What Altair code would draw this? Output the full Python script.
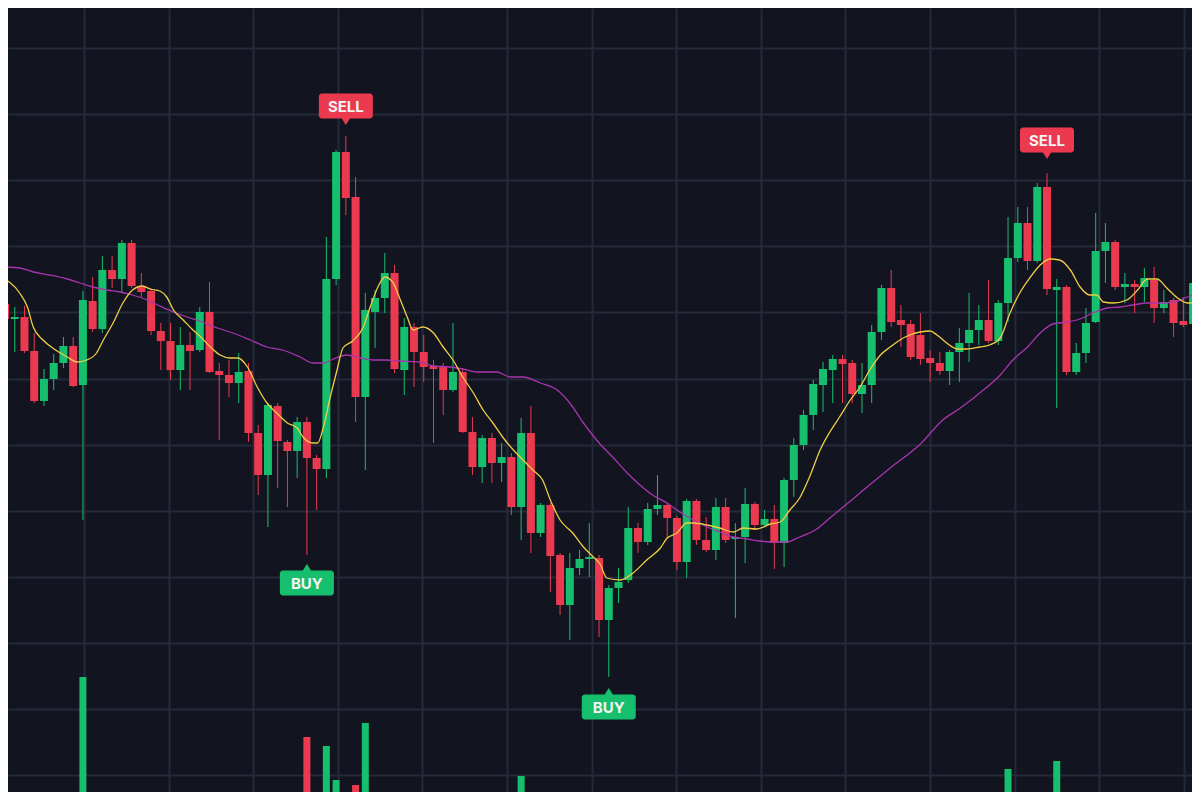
import altair as alt
import pandas as pd

BG = "#12151f"
GRID = "#252a3a"
GREEN = "#16bf6d"
RED = "#eb3a4f"
YELLOW = "#f0cd45"
MAGENTA = "#a834b0"

# ---- candle data (index 0..122), price units ----
opens = [496, 481, 483, 449, 399, 421, 437, 454, 415, 499,
         471, 530, 521, 557, 514, 509, 469, 459, 430, 455,
         450, 488, 429, 425, 417, 429, 367, 325, 394, 358,
         349, 378, 342, 331, 521, 648, 603, 403, 488, 502,
         527, 430, 473, 448, 434, 433, 410, 428, 368, 333,
         362, 337, 343, 293, 367, 267, 295, 245, 195, 232,
         241, 242, 180, 212, 220, 272, 258, 291, 295, 282,
         238, 299, 260, 250, 293, 261, 263, 296, 275, 281,
         257, 320, 355, 385, 415, 430, 441, 437, 406, 415,
         468, 512, 480, 476, 465, 442, 437, 429, 448, 457,
         470, 480, 459, 497, 542, 577, 539, 613, 510, 513,
         428, 447, 478, 549, 558, 513, 516, 513, 520, 492,
         500, 479, 476]
closes = [481, 483, 449, 399, 421, 437, 454, 414, 500, 471,
          530, 521, 557, 514, 508, 469, 459, 430, 455, 449,
          488, 428, 425, 417, 428, 367, 325, 395, 359, 349,
          378, 342, 331, 521, 648, 602, 403, 490, 502, 527,
          431, 473, 448, 433, 431, 410, 428, 368, 333, 362,
          337, 343, 293, 367, 267, 295, 244, 195, 232, 241,
          243, 180, 212, 218, 272, 258, 291, 295, 282, 238,
          299, 260, 250, 293, 260, 263, 296, 275, 281, 257,
          320, 355, 385, 416, 431, 441, 436, 406, 415, 468,
          512, 478, 475, 443, 441, 437, 429, 448, 457, 470,
          480, 459, 497, 542, 577, 539, 613, 511, 513, 428,
          447, 477, 549, 558, 513, 516, 513, 522, 492, 498,
          477, 475, 517]
highs = [503, 493, 494, 467, 431, 446, 463, 463, 509, 523,
         544, 544, 560, 560, 527, 512, 477, 477, 473, 468,
         493, 518, 437, 440, 447, 437, 375, 397, 397, 360,
         383, 383, 345, 563, 650, 664, 623, 507, 510, 547,
         535, 482, 477, 465, 440, 437, 477, 432, 383, 365,
         367, 357, 347, 382, 394, 297, 297, 247, 247, 250,
         277, 245, 215, 232, 293, 277, 297, 325, 297, 284,
         301, 301, 283, 302, 302, 277, 312, 298, 290, 295,
         322, 362, 390, 420, 438, 445, 445, 440, 437, 475,
         515, 530, 495, 480, 487, 450, 448, 450, 472, 507,
         495, 520, 500, 583, 593, 593, 617, 627, 521, 515,
         457, 492, 587, 577, 560, 527, 520, 532, 533, 510,
         502, 503, 520]
lows = [475, 448, 447, 397, 394, 410, 432, 413, 280, 468,
        467, 512, 507, 512, 503, 465, 430, 420, 410, 410,
        448, 427, 360, 403, 397, 358, 305, 273, 312, 293,
        322, 245, 290, 322, 515, 585, 378, 330, 452, 487,
        427, 405, 413, 418, 357, 385, 408, 367, 325, 317,
        317, 318, 285, 260, 247, 263, 208, 185, 160, 225,
        223, 163, 123, 197, 217, 247, 255, 285, 262, 230,
        222, 255, 248, 240, 257, 182, 237, 270, 273, 231,
        233, 303, 350, 370, 388, 397, 397, 397, 387, 397,
        460, 473, 453, 440, 435, 418, 425, 415, 418, 438,
        455, 457, 455, 478, 538, 530, 537, 505, 392, 425,
        425, 437, 477, 517, 510, 497, 487, 498, 477, 487,
        463, 473, 474]

# ---- moving averages (candle index, price) ----
fast_k = [-0.5, 1.5, 2.3, 2.9, 3.9, 4.9, 6.4, 7.4, 8.4, 9.4,
          10.1, 11.1, 12.1, 13.1, 14.1, 14.9, 15.9, 16.6, 17.3, 18.3,
          19.3, 20.0, 21.1, 22.1, 23.1, 23.9, 24.9, 25.9, 26.9, 27.9,
          29.0, 30.0, 30.6, 31.6, 32.1, 32.7, 33.4, 34.1, 34.7, 35.7,
          36.8, 37.5, 38.5, 39.0, 39.8, 40.6, 41.3, 41.9, 42.9, 44.0,
          45.0, 46.0, 47.0, 48.1, 49.1, 50.1, 51.1, 52.2, 53.2, 54.2,
          55.2, 56.0, 57.0, 58.3, 59.4, 60.4, 61.1, 61.8, 63.2, 64.5,
          65.9, 67.3, 68.0, 69.0, 70.0, 70.7, 72.1, 73.4, 74.8, 75.8,
          77.2, 78.6, 79.6, 80.6, 81.6, 82.7, 83.7, 84.7, 85.7, 86.8,
          87.8, 88.8, 89.9, 90.9, 91.9, 92.9, 94.0, 95.0, 95.7, 96.7,
          97.8, 98.8, 100.1, 101.1, 102.2, 103.2, 104.2, 105.3, 106.3, 107.3,
          108.3, 109.4, 110.4, 111.4, 112.1, 112.8, 113.8, 115.2, 116.3, 117.3,
          118.3, 119.3, 120.4, 121.4, 122.7]
fast_v = [523, 507, 493, 473, 460, 452, 443, 438, 440, 447,
          460, 477, 497, 510, 514, 511, 509, 503, 490, 480,
          470, 464, 453, 445, 442, 442, 433, 413, 397, 387,
          377, 372, 363, 357, 357, 373, 403, 430, 452, 459,
          473, 493, 517, 523, 518, 500, 483, 470, 473, 467,
          453, 440, 423, 407, 390, 377, 363, 350, 340, 330,
          320, 300, 280, 267, 253, 243, 236, 222, 220, 227,
          240, 252, 262, 267, 277, 277, 275, 272, 268, 272,
          271, 276, 278, 290, 302, 325, 350, 368, 383, 400,
          413, 430, 445, 453, 460, 465, 468, 469, 465, 457,
          451, 451, 453, 455, 462, 487, 507, 523, 535, 541,
          540, 530, 513, 505, 505, 498, 497, 500, 510, 521,
          521, 512, 502, 497, 498]
slow_k = [-0.5, 1.5, 2.9, 4.6, 6.4, 7.7, 9.0, 10.5, 11.8, 13.1,
          14.6, 15.9, 17.3, 18.7, 20.0, 21.8, 23.4, 25.2, 26.9, 28.5,
          30.3, 31.6, 32.7, 33.7, 35.1, 36.5, 37.8, 39.2, 40.6, 42.6,
          44.0, 45.7, 47.0, 48.5, 50.5, 51.9, 53.2, 55.0, 56.7, 58.0,
          59.4, 61.1, 62.4, 63.9, 65.2, 66.5, 68.0, 69.3, 70.7, 72.1,
          73.4, 74.8, 76.2, 77.5, 78.9, 80.3, 81.6, 83.2, 84.7, 87.8,
          90.9, 94.0, 96.3, 98.1, 100.1, 102.2, 103.5, 105.0, 106.3, 107.6,
          109.1, 110.4, 111.7, 113.2, 114.5, 115.8, 117.3, 118.6, 120.0, 121.4,
          122.7]
slow_v = [533, 532, 528, 525, 521, 517, 513, 510, 508, 505,
          500, 494, 488, 483, 479, 472, 467, 460, 453, 450,
          443, 437, 437, 441, 445, 442, 440, 440, 439, 438,
          434, 433, 431, 428, 428, 423, 423, 417, 410, 397,
          377, 356, 343, 327, 315, 305, 297, 288, 280, 273,
          268, 263, 261, 259, 258, 258, 263, 270, 282, 307,
          332, 356, 380, 392, 407, 425, 440, 453, 467, 476,
          478, 481, 487, 492, 493, 495, 497, 497, 498, 503,
          507]

# ---- volume bars visible at the bottom ----
vol_k = [8, 27, 31, 33, 34, 35, 36, 37, 53, 103, 108]
vol_v = [76.5, 17.5, 46.5, 42, 25, 15.5, 22.5, 53.5, 27, 30.5, 34.5]

# ---- signals ----
sig_k = [31, 35, 62, 107]
sig_text = ["BUY", "SELL", "BUY", "SELL"]
sig_price = [217, 694, 93, 660]

candles = pd.DataFrame({"k": list(range(len(opens))), "open": opens, "close": closes,
                        "high": highs, "low": lows})
candles["dir"] = ["up" if c >= o else "down" for o, c in zip(opens, closes)]
dir_map = dict(zip(candles["k"], candles["dir"]))
vol_df = pd.DataFrame({"k": vol_k, "vol": vol_v})
vol_df["dir"] = [dir_map[k] for k in vol_k]
fast_df = pd.DataFrame({"k": fast_k, "v": fast_v})
slow_df = pd.DataFrame({"k": slow_k, "v": slow_v})
sig_df = pd.DataFrame({"k": sig_k, "text": sig_text, "p": sig_price})
sig_df["dir"] = ["up" if t == "BUY" else "down" for t in sig_text]

W, H = 1184, 784
xscale = alt.Scale(domain=[0.308, 121.89], nice=False, zero=False, padding=0)
yscale = alt.Scale(domain=[8, 792], nice=False, zero=False, padding=0)
grid_x = [(84 + 84.6 * m - 5) / 9.738 for m in range(14)]
grid_y = [752 - 66.1 * j for j in range(12)]
xaxis = alt.Axis(values=grid_x, grid=True, gridColor=GRID, gridWidth=2, gridOpacity=1,
                 labels=False, ticks=False, domain=False, title=None)
yaxis = alt.Axis(values=grid_y, grid=True, gridColor=GRID, gridWidth=2, gridOpacity=1,
                 labels=False, ticks=False, domain=False, title=None)
color = alt.Color("dir:N", scale=alt.Scale(domain=["up", "down"], range=[GREEN, RED]), legend=None)

base = alt.Chart(candles)
wick = base.mark_rule(strokeWidth=1, clip=True).encode(
    x=alt.X("k:Q", scale=xscale, axis=xaxis),
    y=alt.Y("low:Q", scale=yscale, axis=yaxis),
    y2="high:Q",
    color=color,
)
body = base.mark_bar(width=8, clip=True).encode(
    x=alt.X("k:Q", scale=xscale),
    y=alt.Y("open:Q", scale=yscale),
    y2="close:Q",
    color=color,
)
slow = alt.Chart(slow_df).mark_line(color=MAGENTA, strokeWidth=1.3, interpolate="monotone", clip=True).encode(
    x=alt.X("k:Q", scale=xscale), y=alt.Y("v:Q", scale=yscale))
fast = alt.Chart(fast_df).mark_line(color=YELLOW, strokeWidth=1.3, interpolate="monotone", clip=True).encode(
    x=alt.X("k:Q", scale=xscale), y=alt.Y("v:Q", scale=yscale))

sig = alt.Chart(sig_df)
box = sig.mark_rect(xOffset=-27, x2Offset=27, yOffset=-12.5, y2Offset=12.5, cornerRadius=3).encode(
    x=alt.X("k:Q", scale=xscale), x2="k:Q",
    y=alt.Y("p:Q", scale=yscale), y2="p:Q", color=color)
ptr_sell = sig.transform_filter(alt.datum.text == "SELL").mark_point(
    shape="M-1,-0.8L1,-0.8L0,0.8Z", size=100, filled=True, opacity=1, strokeWidth=0, yOffset=15).encode(
    x=alt.X("k:Q", scale=xscale), y=alt.Y("p:Q", scale=yscale), color=color)
ptr_buy = sig.transform_filter(alt.datum.text == "BUY").mark_point(
    shape="M-1,0.8L1,0.8L0,-0.8Z", size=100, filled=True, opacity=1, strokeWidth=0, yOffset=-15).encode(
    x=alt.X("k:Q", scale=xscale), y=alt.Y("p:Q", scale=yscale), color=color)
txt = sig.mark_text(font="Inter", fontWeight="bold", fontSize=15, color="#f4f4f4",
                    align="center", baseline="middle", dy=1).encode(
    x=alt.X("k:Q", scale=xscale), y=alt.Y("p:Q", scale=yscale), text="text:N")

vol = alt.Chart(vol_df).mark_bar(width=7, clip=True).encode(
    x=alt.X("k:Q", scale=xscale),
    y=alt.Y("vol:Q", scale=alt.Scale(domain=[19, 411], nice=False, zero=False, padding=0), axis=None),
    y2=alt.datum(0),
    color=color,
)

price = alt.layer(wick, body, slow, fast, box, ptr_sell, ptr_buy, txt)
chart = alt.layer(price, vol).resolve_scale(y="independent").properties(
    width=W, height=H, background=BG, padding=0, autosize="none"
).configure_view(stroke=None)

chart.save("out.html", embed_options={"renderer": "svg", "actions": False})
